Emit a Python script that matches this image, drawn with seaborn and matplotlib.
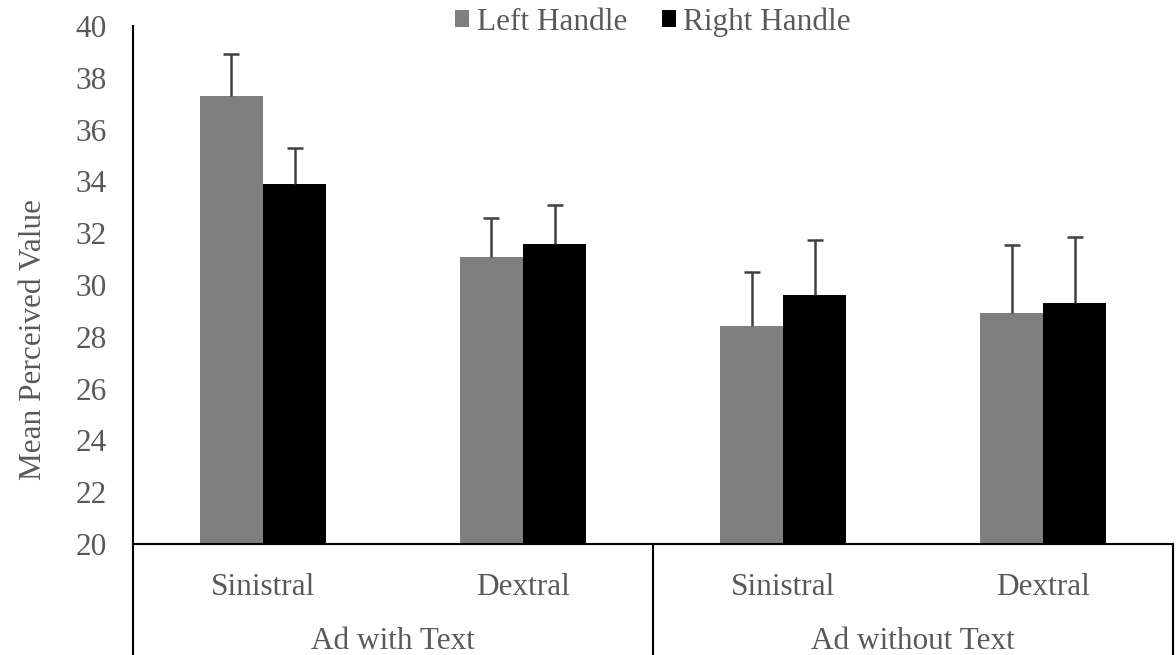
import pandas as pd
import matplotlib
matplotlib.use("Agg")
import matplotlib.pyplot as plt
import seaborn as sns

# values
groups = ["Ad with Text", "Ad with Text", "Ad without Text", "Ad without Text"]
sides = ["Sinistral", "Dextral", "Sinistral", "Dextral"]
left_mean = [37.3, 31.1, 28.4, 28.9]
left_err = [1.6, 1.5, 2.1, 2.65]
right_mean = [33.9, 31.6, 29.6, 29.3]
right_err = [1.4, 1.5, 2.15, 2.55]
handles = ["Left Handle", "Right Handle"]

keys = [g + " / " + s for g, s in zip(groups, sides)]
df = pd.DataFrame({
    "key": keys * 2,
    "handle": [handles[0]] * 4 + [handles[1]] * 4,
    "value": left_mean + right_mean,
    "err": left_err + right_err,
})

sns.set_theme(style="white")
plt.rcParams["font.family"] = ["Liberation Serif", "DejaVu Serif"]
text_col = "#595959"
fs = 22.5

fig = plt.figure(figsize=(11.76, 6.55), dpi=100)
ax = fig.add_axes([0.1131, 0.1695, 0.8844, 0.7908])

sns.barplot(data=df, x="key", y="value", hue="handle", order=keys,
            hue_order=handles, palette=["#7f7f7f", "#000000"],
            width=0.485, errorbar=None, ax=ax, saturation=1, linewidth=0)

# upper error bars only, placed on the bar centres
for cont, h in zip(ax.containers, handles):
    sub = df[df["handle"] == h]
    xs = [p.get_x() + p.get_width() / 2 for p in cont.patches]
    _, caps, _ = ax.errorbar(xs, sub["value"].values,
                             yerr=[[0] * 4, sub["err"].values],
                             fmt="none", ecolor="#404040", elinewidth=1.8,
                             capsize=5.5, capthick=1.8)
    caps[0].set_visible(False)

ax.set_ylim(20, 40)
ax.set_xlim(-0.5, 3.5)
ax.set_yticks(range(20, 41, 2))
ax.tick_params(axis="y", length=0, labelsize=fs, labelcolor=text_col, pad=19)
ax.tick_params(axis="x", length=0, labelsize=fs, labelcolor=text_col, pad=21)
ax.set_xticks(range(4))
ax.set_xticklabels(sides)
ax.set_xlabel("")
ax.set_ylabel("Mean Perceived Value", fontsize=fs, color=text_col, va="center")
ax.yaxis.set_label_coords(-0.096, 0.394)

for s in ["top", "right"]:
    ax.spines[s].set_visible(False)
ax.spines["left"].set_color("black")
ax.spines["left"].set_linewidth(1.5)
ax.spines["bottom"].set_color("black")
ax.spines["bottom"].set_linewidth(1.5)

# category box below the axis
trans = ax.get_xaxis_transform()
for xv in [-0.5, 1.5, 3.5]:
    ax.plot([xv, xv], [0, -0.215], transform=trans, color="black",
            lw=1.5, clip_on=False)
for xc, g in [(0.5, "Ad with Text"), (2.5, "Ad without Text")]:
    ax.text(xc, -0.188, g, transform=trans, ha="center", va="center",
            fontsize=fs, color=text_col)

ax.legend(loc="center", bbox_to_anchor=(0.5, 1.008), ncol=2, frameon=False,
          fontsize=fs, handlelength=0.45, handleheight=0.45,
          handletextpad=0.25, columnspacing=1.1, labelcolor=text_col)

fig.savefig("out.png", dpi=100)
